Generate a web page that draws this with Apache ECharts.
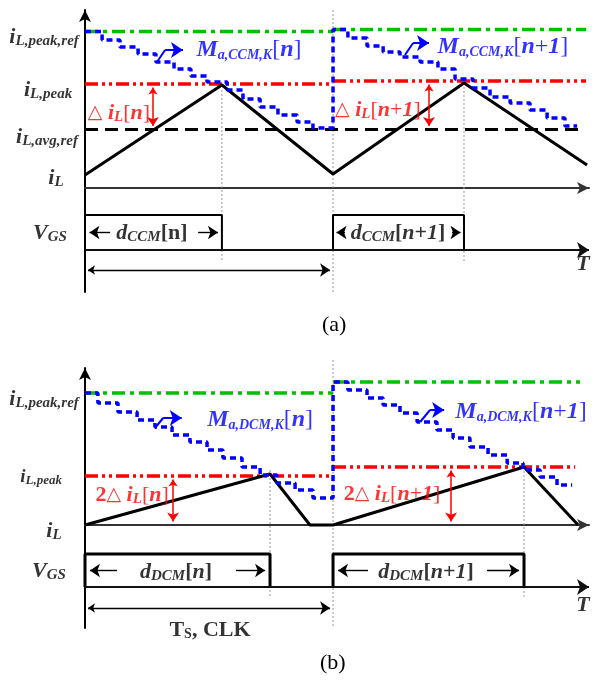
<!DOCTYPE html>
<html>
<head>
<meta charset="utf-8">
<script src="https://cdn.jsdelivr.net/npm/echarts@6/dist/echarts.min.js"></script>
<style>
html, body { margin: 0; padding: 0; background: #fff; }
#chart { width: 597px; height: 684px; }
</style>
</head>
<body>
<div id="chart"></div>
<script>
// Time is in switching periods (one cycle = 1), currents in arbitrary units.

// ---- (a) CCM ----
const ccmPeakRef = [15.65, 15.85];           // i_L,peak,ref for cycle n, n+1
const ccmPeak = [10.4, 10.7];                // i_L,peak for cycle n, n+1
const ccmAvgRef = 5.85;                      // i_L,avg,ref
const ccmCurrentT = [0, 0.552, 1.0, 1.528, 2.024];
const ccmCurrentV = [1.3, 10.3, 1.4, 10.5, 2.3];
const ccmOnTime = [[0, 0.552], [1.0, 1.528]];
const ccmRampT = [0, 0.069, 0.141, 0.214, 0.286, 0.359, 0.427, 0.492, 0.573, 0.637, 0.706, 0.778, 0.855, 0.919, 1.0,
                  1.0, 1.060, 1.137, 1.202, 1.270, 1.351, 1.423, 1.492, 1.565, 1.633, 1.714, 1.794, 1.863, 1.935, 1.984];
const ccmRampV = [15.65, 14.8, 14.1, 13.4, 12.6, 11.9, 11.2, 10.6, 9.8, 8.9, 8.1, 7.3, 6.6, 6.0, 6.0,
                  15.85, 15.0, 14.2, 13.6, 13.1, 12.6, 11.9, 10.9, 10.0, 9.1, 8.5, 7.8, 7.0, 6.2, 6.2];

// ---- (b) DCM ----
const dcmPeakRef = [13.2, 14.3];
const dcmPeak = [4.9, 5.8];
const dcmCurrentT = [0, 0.746, 0.907, 1.0, 1.770, 1.988];
const dcmCurrentV = [0, 5.1, 0, 0, 5.8, 0];
const dcmOnTime = [[0, 0.746], [1.0, 1.770]];
const dcmRampT = [0, 0.052, 0.133, 0.210, 0.282, 0.351, 0.423, 0.492, 0.556, 0.633, 0.706, 0.774, 0.847, 0.919, 1.0,
                  1.0, 1.060, 1.137, 1.202, 1.270, 1.339, 1.419, 1.484, 1.552, 1.625, 1.702, 1.766, 1.835, 1.903, 1.964];
const dcmRampV = [13.2, 12.2, 11.3, 10.5, 9.8, 9.0, 8.3, 7.5, 6.7, 5.8, 5.0, 4.2, 3.5, 2.7, 2.7,
                  14.3, 13.5, 12.7, 12.0, 11.2, 10.3, 9.5, 8.7, 7.8, 7.0, 6.2, 5.5, 4.8, 4.0, 4.0];

// ---- text ----
const ccmAxisNames = ['{i|i}{s|L,peak,ref}', '{i|i}{s|L,peak}', '{i|i}{s|L,avg,ref}', '{i|i}{s|L}', '{i|V}{s|GS}', '{i|T}'];
const dcmAxisNames = ['{i|i}{s|L,peak,ref}', '{i2|i}{s2|L,peak}', '{i|i}{s|L}', '{i|V}{s|GS}', '{i|T}'];
const ccmSlopeNames = ['{m|M}{ms|a,CCM,K}{b|[}{mi|n}{b|]}', '{m|M}{ms|a,CCM,K}{b|[}{mi|n}{b|+}{mi|1}{b|]}'];
const dcmSlopeNames = ['{m|M}{ms|a,DCM,K}{b|[}{mi|n}{b|]}', '{m|M}{ms|a,DCM,K}{b|[}{mi|n}{b|+}{mi|1}{b|]}'];
const ccmRippleNames = ['{t|△}{n| }{i|i}{s|L}{n|[}{i|n}{n|]}', '{t|△}{n| }{i|i}{s|L}{n|[}{i|n}{n|+}{i|1}{n|]}'];
const dcmRippleNames = ['{u|2}{t|△}{n| }{i|i}{s|L}{n|[}{i|n}{n|]}', '{u|2}{t|△}{n| }{i|i}{s|L}{n|[}{i|n}{n|+}{i|1}{n|]}'];
const ccmDutyNames = ['{i|d}{s|CCM}{u|[n]}', '{i|d}{s|CCM}{u|[}{i|n}{u|+}{i|1}{u|]}'];
const dcmDutyNames = ['{i|d}{s|DCM}{u|[}{i|n}{u|]}', '{i|d}{s|DCM}{u|[}{i|n}{u|+}{i|1}{u|]}'];
const periodName = '{u|T}{us|S}{u|, CLK}';
const panelNames = ['(a)', '(b)'];

const SERIF = '"Liberation Serif", "Times New Roman", serif';
const GREEN = '#00c000', RED = '#ff0000', BLUE = '#0000ff', GRAY = '#9a9a9a';
const X_MAX = 2.032;

const rich = {
  i: { fontFamily: SERIF, fontSize: 22, fontStyle: 'italic', fontWeight: 'bold' },
  s: { fontFamily: SERIF, fontSize: 15, fontStyle: 'italic', fontWeight: 'bold', padding: [9, 0, 0, 0] },
  i2: { fontFamily: SERIF, fontSize: 19, fontStyle: 'italic', fontWeight: 'bold' },
  s2: { fontFamily: SERIF, fontSize: 13, fontStyle: 'italic', fontWeight: 'bold', padding: [8, 0, 0, 0] },
  u: { fontFamily: SERIF, fontSize: 22, fontWeight: 'bold' },
  us: { fontFamily: SERIF, fontSize: 14, fontWeight: 'bold', padding: [9, 0, 0, 0] },
  n: { fontFamily: SERIF, fontSize: 22 },
  t: { fontFamily: '"DejaVu Sans", sans-serif', fontSize: 19 },
  m: { fontFamily: SERIF, fontSize: 24, fontStyle: 'italic', fontWeight: 'bold' },
  ms: { fontFamily: SERIF, fontSize: 14, fontStyle: 'italic', fontWeight: 'bold', padding: [10, 0, 0, 0] },
  mi: { fontFamily: SERIF, fontSize: 24, fontStyle: 'italic', fontWeight: 'bold' },
  b: { fontFamily: SERIF, fontSize: 24 }
};

const zip = (t, v) => t.map((x, k) => [x, v[k]]);

function path(g, data, style, z, extra) {
  return Object.assign({
    type: 'line', xAxisIndex: g, yAxisIndex: g, data, symbol: 'none', silent: true,
    lineStyle: style, z, animation: false, clip: false
  }, extra || {});
}

function arrows(g, items, color, width, size, z) {
  return {
    type: 'lines', coordinateSystem: 'cartesian2d', xAxisIndex: g, yAxisIndex: g,
    silent: true, animation: false, clip: false, z,
    symbolSize: size,
    lineStyle: { color, width, opacity: 1, curveness: 0 },
    data: items.map(it => ({ coords: it.c, symbol: it.s }))
  };
}

function labels(g, items) {
  return {
    type: 'scatter', xAxisIndex: g, yAxisIndex: g, symbolSize: 0, silent: true, animation: false,
    clip: false, z: 20,
    label: { show: true, position: 'inside', rich, color: '#000' },
    data: items.map(it => ({ value: it.p, label: { formatter: it.f, color: it.color || '#000' } }))
  };
}

function refLines(g, levels, ends, style, z) {
  return [
    path(g, [[0, levels[0]], [1, levels[0]]], style, z),
    path(g, [[1, levels[1]], [ends, levels[1]]], style, z)
  ];
}

function pulses(g, onTime, hi, lo, width) {
  return onTime.map(p => path(g, [[p[0], lo], [p[0], hi], [p[1], hi], [p[1], lo]],
    { color: '#000', width }, 6));
}

const greenStyle = { color: GREEN, width: 3.5, type: [13, 5, 4, 5] };
const redStyle = { color: RED, width: 3.5, type: [13, 4, 3, 4, 3, 4] };
const blackDash = { color: '#000', width: 3, type: [13, 7] };
const rampStyle = { color: BLUE, width: 3.5, type: [6, 4] };
const guide = { color: GRAY, width: 1, type: [2, 2] };

// Gate-drive levels and arrow rows
const ccmGateHi = -2.7, ccmGateLo = -6.2, ccmGateMid = -4.45, ccmSpan = -8.2;
const dcmGateHi = -2.9, dcmGateLo = -6.2, dcmGateMid = -4.55, dcmSpan = -8.3;

const series = [];

// ===== panel (a) =====
series.push(
  path(0, [[ccmOnTime[0][1], 9.8], [ccmOnTime[0][1], -7.4]], guide, 1),
  path(0, [[1, 17.8], [1, -10.4]], guide, 1),
  path(0, [[ccmOnTime[1][1], 10.5], [ccmOnTime[1][1], -7.4]], guide, 1),
  ...refLines(0, ccmPeakRef, 2.02, greenStyle, 2),
  ...refLines(0, ccmPeak, 2.02, redStyle, 2),
  path(0, [[0, ccmAvgRef], [2.008, ccmAvgRef]], blackDash, 2),
  path(0, zip(ccmCurrentT, ccmCurrentV), { color: '#000', width: 3 }, 4),
  path(0, zip(ccmRampT, ccmRampV), rampStyle, 5, { step: 'end' }),
  ...pulses(0, ccmOnTime, ccmGateHi, ccmGateLo, 2),
  arrows(0, [{ c: [[0, ccmGateLo], [X_MAX, ccmGateLo]], s: ['none', 'arrow'] }], '#111', 2, [9, 12], 7),
  arrows(0, [
    { c: [[0.012, ccmSpan], [0.988, ccmSpan]], s: ['arrow', 'arrow'] },
    { c: [[0.101, ccmGateMid], [0.018, ccmGateMid]], s: ['none', 'arrow'] },
    { c: [[0.456, ccmGateMid], [0.536, ccmGateMid]], s: ['none', 'arrow'] },
    { c: [[1.048, ccmGateMid], [1.014, ccmGateMid]], s: ['none', 'arrow'] },
    { c: [[1.480, ccmGateMid], [1.514, ccmGateMid]], s: ['none', 'arrow'] }
  ], '#000', 1.4, [7, 10], 8),
  arrows(0, [
    { c: [[0.274, ccmPeak[0] - 0.35], [0.274, ccmAvgRef + 0.35]], s: ['arrow', 'arrow'] },
    { c: [[1.387, ccmPeak[1] - 0.35], [1.387, ccmAvgRef + 0.35]], s: ['arrow', 'arrow'] }
  ], RED, 1.5, [7, 9], 8),
  arrows(0, [
    { c: [[0.290, 12.6], [0.323, 13.8]], s: ['none', 'none'] },
    { c: [[0.323, 13.8], [0.395, 13.8]], s: ['none', 'arrow'] },
    { c: [[1.290, 13.3], [1.323, 14.5]], s: ['none', 'none'] },
    { c: [[1.323, 14.5], [1.387, 14.5]], s: ['none', 'arrow'] }
  ], BLUE, 2, [10, 12], 8),
  labels(0, [
    { p: [-0.165, 15.1], f: ccmAxisNames[0] },
    { p: [-0.149, 9.8], f: ccmAxisNames[1] },
    { p: [-0.153, 5.1], f: ccmAxisNames[2] },
    { p: [-0.117, 1.0], f: ccmAxisNames[3] },
    { p: [-0.141, -4.5], f: ccmAxisNames[4] },
    { p: [2.008, -7.6], f: ccmAxisNames[5] },
    { p: [0.661, 13.8], f: ccmSlopeNames[0], color: BLUE },
    { p: [1.685, 14.1], f: ccmSlopeNames[1], color: BLUE },
    { p: [0.137, 7.5], f: ccmRippleNames[0], color: RED },
    { p: [1.181, 7.8], f: ccmRippleNames[1], color: RED },
    { p: [0.270, -4.5], f: ccmDutyNames[0] },
    { p: [1.262, -4.5], f: ccmDutyNames[1] }
  ])
);

// ===== panel (b) =====
series.push(
  path(1, [[dcmOnTime[0][1], 5.5], [dcmOnTime[0][1], -7.3]], guide, 1),
  path(1, [[1, 16.5], [1, -10.3]], guide, 1),
  path(1, [[dcmOnTime[1][1], 5.8], [dcmOnTime[1][1], -7.3]], guide, 1),
  path(1, [[0, dcmPeakRef[0]], [1, dcmPeakRef[0]]], greenStyle, 2),
  path(1, [[1, dcmPeakRef[1]], [1.996, dcmPeakRef[1]]], greenStyle, 2),
  path(1, [[0, dcmPeak[0]], [1, dcmPeak[0]]], redStyle, 2),
  path(1, [[1, dcmPeak[1]], [1.976, dcmPeak[1]]], redStyle, 2),
  path(1, zip(dcmCurrentT, dcmCurrentV), { color: '#000', width: 3 }, 4),
  path(1, zip(dcmRampT, dcmRampV), rampStyle, 5, { step: 'end' }),
  ...pulses(1, dcmOnTime, dcmGateHi, dcmGateLo, 3),
  arrows(1, [{ c: [[0, dcmGateLo], [X_MAX, dcmGateLo]], s: ['none', 'arrow'] }], '#111', 2, [9, 12], 7),
  arrows(1, [
    { c: [[0.012, dcmSpan], [0.988, dcmSpan]], s: ['arrow', 'arrow'] },
    { c: [[0.129, dcmGateMid], [0.02, dcmGateMid]], s: ['none', 'arrow'] },
    { c: [[0.609, dcmGateMid], [0.726, dcmGateMid]], s: ['none', 'arrow'] },
    { c: [[1.141, dcmGateMid], [1.02, dcmGateMid]], s: ['none', 'arrow'] },
    { c: [[1.621, dcmGateMid], [1.75, dcmGateMid]], s: ['none', 'arrow'] }
  ], '#000', 1.4, [7, 10], 8),
  arrows(1, [
    { c: [[0.355, dcmPeak[0] - 0.35], [0.355, 0.35]], s: ['arrow', 'arrow'] },
    { c: [[1.476, dcmPeak[1] - 0.35], [1.476, 0.35]], s: ['arrow', 'arrow'] }
  ], RED, 1.5, [7, 9], 8),
  arrows(1, [
    { c: [[0.282, 9.7], [0.315, 10.7]], s: ['none', 'none'] },
    { c: [[0.315, 10.7], [0.39, 10.7]], s: ['none', 'arrow'] },
    { c: [[1.351, 10.3], [1.391, 11.5]], s: ['none', 'none'] },
    { c: [[1.391, 11.5], [1.448, 11.5]], s: ['none', 'arrow'] }
  ], BLUE, 2, [10, 12], 8),
  labels(1, [
    { p: [-0.165, 12.6], f: dcmAxisNames[0] },
    { p: [-0.177, 4.8], f: dcmAxisNames[1] },
    { p: [-0.125, -0.6], f: dcmAxisNames[2] },
    { p: [-0.145, -4.6], f: dcmAxisNames[3] },
    { p: [2.008, -8.0], f: dcmAxisNames[4] },
    { p: [0.706, 10.5], f: dcmSlopeNames[0], color: BLUE },
    { p: [1.758, 11.3], f: dcmSlopeNames[1], color: BLUE },
    { p: [0.190, 3.0], f: dcmRippleNames[0], color: RED },
    { p: [1.238, 3.1], f: dcmRippleNames[1], color: RED },
    { p: [0.367, -4.7], f: dcmDutyNames[0] },
    { p: [1.375, -4.7], f: dcmDutyNames[1] },
    { p: [0.504, -10.5], f: periodName }
  ])
);

function xAxis(g) {
  return {
    type: 'value', gridIndex: g, min: 0, max: X_MAX,
    axisLine: { show: true, onZero: true, symbol: ['none', 'arrow'], symbolSize: [9, 12],
                lineStyle: { color: '#333', width: 2 } },
    axisTick: { show: false }, axisLabel: { show: false }, splitLine: { show: false }
  };
}
function yAxis(g, min, max) {
  return {
    type: 'value', gridIndex: g, min, max,
    axisLine: { show: true, symbol: ['none', 'arrow'], symbolSize: [9, 12],
                lineStyle: { color: '#000', width: 2 } },
    axisTick: { show: false }, axisLabel: { show: false }, splitLine: { show: false }
  };
}

const chart = echarts.init(document.getElementById('chart'), null, { renderer: 'canvas' });
chart.setOption({
  backgroundColor: '#fff',
  animation: false,
  title: [
    { text: panelNames[0], left: 322, top: 314, padding: 0,
      textStyle: { fontFamily: SERIF, fontSize: 22, fontWeight: 'normal', color: '#000' } },
    { text: panelNames[1], left: 320, top: 652, padding: 0,
      textStyle: { fontFamily: SERIF, fontSize: 22, fontWeight: 'normal', color: '#000' } }
  ],
  grid: [
    { left: 85, top: 10, width: 504, height: 282, containLabel: false, outerBoundsMode: 'none' },
    { left: 85, top: 368, width: 504, height: 260, containLabel: false, outerBoundsMode: 'none' }
  ],
  xAxis: [xAxis(0), xAxis(1)],
  yAxis: [yAxis(0, -10.4, 17.8), yAxis(1, -10.3, 15.7)],
  series
});
</script>
</body>
</html>
